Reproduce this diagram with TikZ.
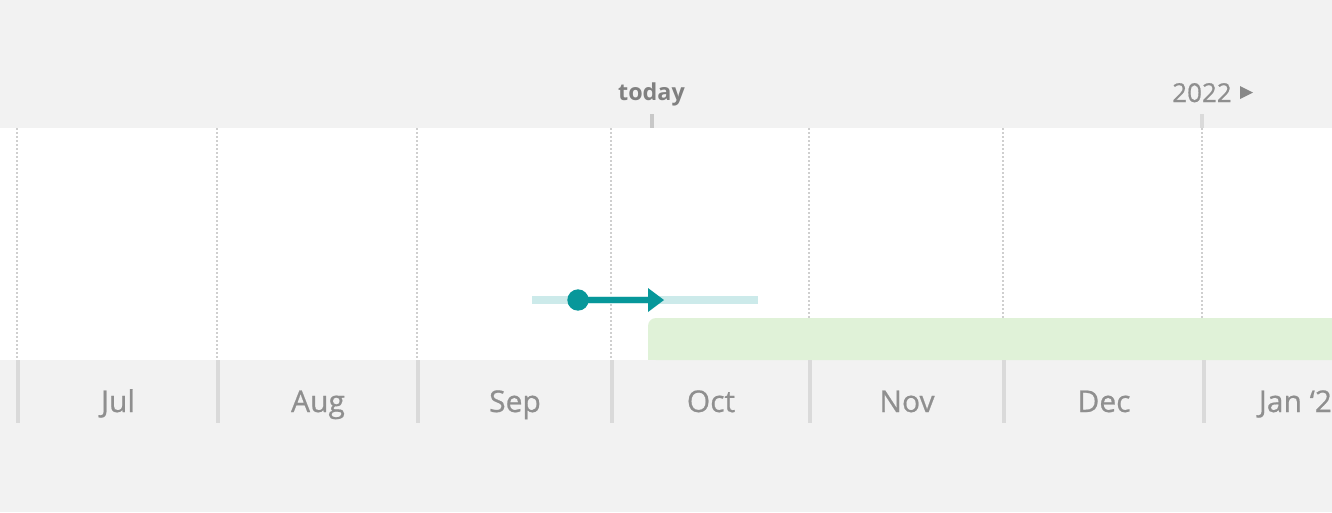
\documentclass[tikz,border=0pt]{standalone}
\usepackage{fontspec}
\setmainfont{Open Sans}
\newfontfamily\medfont{Open Sans}[FakeBold=0.7]
\definecolor{bg}{HTML}{F2F2F2}
\definecolor{grid}{HTML}{CFCFCF}
\definecolor{tick}{HTML}{DADADA}
\definecolor{todaytick}{HTML}{C8C8C8}
\definecolor{lbl}{HTML}{8F8F8F}
\definecolor{todaycol}{HTML}{808080}
\definecolor{tealdark}{HTML}{07979A}
\definecolor{teallight}{HTML}{CCEAEA}
\definecolor{greenbar}{HTML}{E0F2D8}
\tikzset{
  gridline/.style={draw=grid, line width=1.4pt, dash pattern=on 1.5pt off 1.5pt},
  monthtick/.style={draw=tick, line width=3pt},
  month/.style={text=lbl, font=\medfont\fontsize{22.5}{26}\selectfont, anchor=base, inner sep=0pt},
  toptick/.style={line width=3pt},
}
\begin{document}
\begin{tikzpicture}[x=0.75pt,y=-0.75pt]
\useasboundingbox (0,0) rectangle (1332,512);
\clip (0,0) rectangle (1332,512);
\fill[bg] (0,0) rectangle (1332,512);
\fill[white] (0,128) rectangle (1332,360);
% dotted grid lines
\foreach \x in {17,217,417,611,809,1003,1202}
  \draw[gridline] (\x,128) -- (\x,360);
% green bar
\fill[greenbar, rounded corners=6pt] (648,360) -- (648,318) -- (1345,318) -- (1345,360) -- cycle;
\fill[greenbar] (648,340) rectangle (1345,360);
% bottom ticks
\foreach \x in {18,218,418,612,810,1004,1204}
  \draw[monthtick] (\x,360) -- (\x,423);
% month labels
\node[month] (jul) at (118,412) {Jul};
\node[month] (aug) at (318,412) {Aug};
\node[month] (sep) at (515,412) {Sep};
\node[month] (oct) at (711,412) {Oct};
\node[month] (nov) at (907,412) {Nov};
\node[month] (dec) at (1104,412) {Dec};
\node[month] (jan) at (1304,412) {Jan ‘22};
% top labels
\node[text=todaycol, font=\bfseries\fontsize{17.5}{20}\selectfont, anchor=base, inner sep=0pt] (today) at (651.5,100) {today};
\draw[toptick, draw=todaytick] (652,114) -- (652,128);
\node[text=lbl, font=\medfont\fontsize{19.5}{22}\selectfont, anchor=base, inner sep=0pt] (yr) at (1202,102) {2022};
\fill[lbl!95!black] (1240,86) -- (1253,92.5) -- (1240,99) -- cycle;
\draw[toptick, draw=tick] (1202,114) -- (1202,128);
% teal bar and arrow
\coordinate (barL) at (532,300);
\coordinate (barR) at (758,300);
\draw[teallight, line width=6pt] (barL) -- (barR);
\coordinate (dot) at (578,300);
\coordinate (tip) at (664,300);
\draw[tealdark, line width=4.5pt] (dot) -- (650,300);
\fill[tealdark] (648,288) -- (tip) -- (648,312) -- cycle;
\fill[tealdark] (dot) circle[radius=8pt];
\end{tikzpicture}
\end{document}
